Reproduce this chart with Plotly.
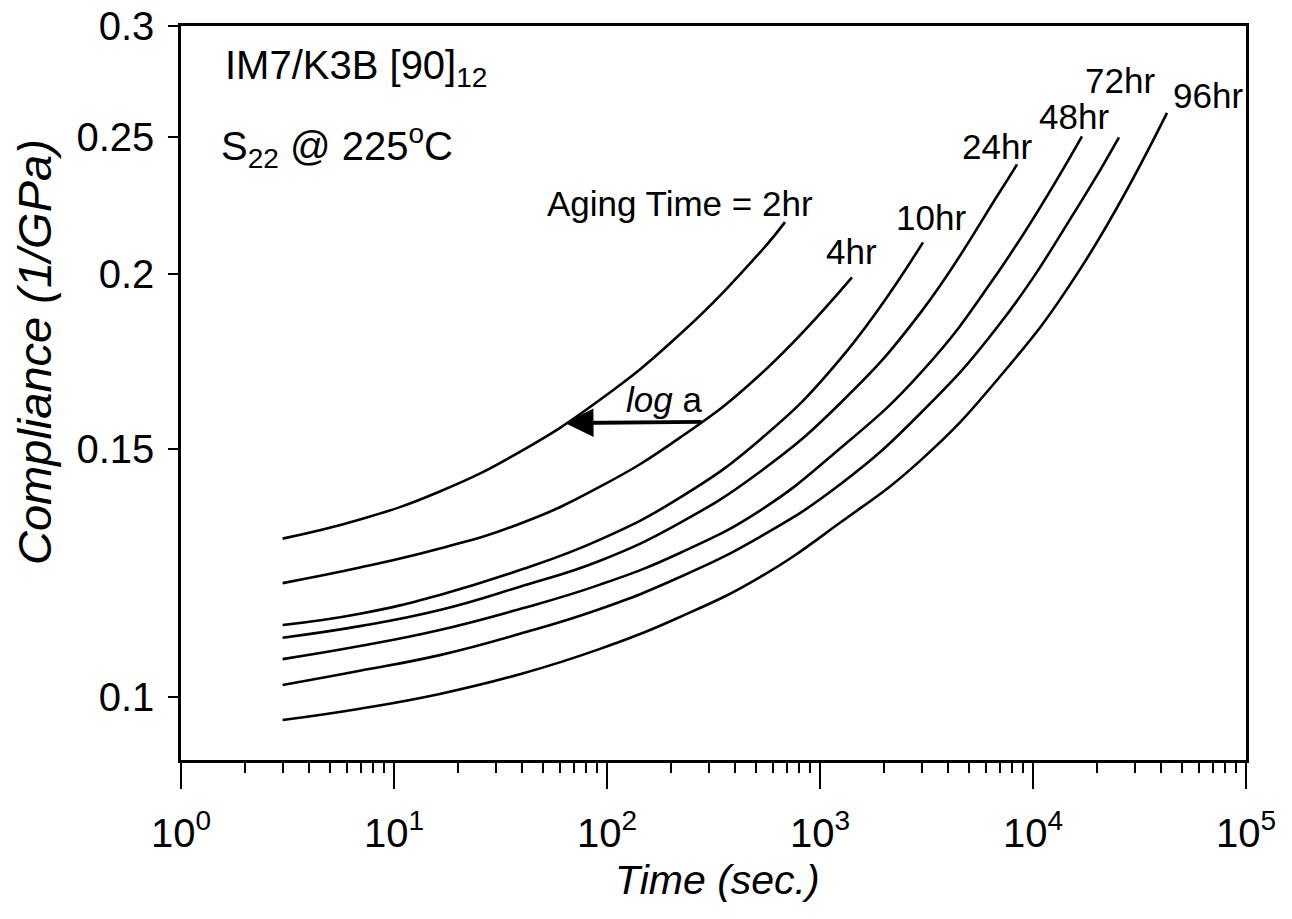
import math
import plotly.graph_objects as go

# ---- data (time in s, compliance in 1/GPa) ----
aging_labels = ["2hr", "4hr", "10hr", "24hr", "48hr", "72hr", "96hr"]

t_2hr = [3, 6.92, 16.4, 39.0, 92.7, 220, 523, 685]
c_2hr = [0.1296, 0.1337, 0.1400, 0.1494, 0.1627, 0.1811, 0.2071, 0.2176]

t_4hr = [3, 6.92, 16.4, 39.0, 92.7, 220, 523, 1413]
c_4hr = [0.1205, 0.1236, 0.1275, 0.1328, 0.1411, 0.1529, 0.1695, 0.1988]

t_10hr = [3, 6.92, 16.4, 39.0, 92.7, 220, 523, 1241, 3045]
c_10hr = [0.1125, 0.1146, 0.1182, 0.1231, 0.1294, 0.1386, 0.1524, 0.1738, 0.2105]

t_24hr = [3, 6.92, 16.4, 39.0, 92.7, 220, 523, 1241, 2948, 7000, 8413]
c_24hr = [0.1102, 0.1123, 0.1153, 0.1198, 0.1250, 0.1330, 0.1446, 0.1617, 0.1874, 0.2288, 0.2392]

t_48hr = [3, 6.92, 16.4, 39.0, 92.7, 220, 523, 1241, 2948, 7000, 16982]
c_48hr = [0.1064, 0.1087, 0.1116, 0.1155, 0.1202, 0.1266, 0.1357, 0.1502, 0.1698, 0.2014, 0.2504]

t_72hr = [3, 6.92, 16.4, 39.0, 92.7, 220, 523, 1241, 2948, 7000, 16620, 25340]
c_72hr = [0.1020, 0.1044, 0.1071, 0.1109, 0.1155, 0.1217, 0.1300, 0.1416, 0.1590, 0.1843, 0.2244, 0.2500]

t_96hr = [3, 6.92, 16.4, 39.0, 92.7, 220, 523, 1241, 2948, 7000, 16620, 42580]
c_96hr = [0.0963, 0.0981, 0.1005, 0.1038, 0.1082, 0.1140, 0.1217, 0.1330, 0.1472, 0.1690, 0.2014, 0.2602]

# curve label positions (time, compliance)
label_t = [220, 1413, 3319, 6776, 15560, 25590, 66370]
label_c = [0.2244, 0.2074, 0.2193, 0.2463, 0.2588, 0.2745, 0.2679]

x_tickvals = [1, 10, 100, 1000, 10000, 100000]
x_ticktext = ["10<sup>0</sup>", "10<sup>1</sup>", "10<sup>2</sup>", "10<sup>3</sup>",
              "10<sup>4</sup>", "10<sup>5</sup>"]
x_minor = [m * 10 ** d for d in range(0, 5) for m in range(2, 10)]
y_tickvals = [0.1, 0.15, 0.2, 0.25, 0.3]
y_ticktext = ["0.1", "0.15", "0.2", "0.25", "0.3"]

# shift arrow (head on 2hr curve, tail on 4hr curve)
arrow_head = (63.5, 0.1566)
arrow_tail = (282, 0.1569)
loga_pos = (185, 0.1627)

FONT = "Liberation Sans, Arial, sans-serif"

series = [(t_2hr, c_2hr), (t_4hr, c_4hr), (t_10hr, c_10hr), (t_24hr, c_24hr),
          (t_48hr, c_48hr), (t_72hr, c_72hr), (t_96hr, c_96hr)]

fig = go.Figure()
for (tt, cc), name in zip(series, aging_labels):
    fig.add_trace(go.Scatter(x=tt, y=cc, mode="lines", name=name,
                             line=dict(color="black", width=2.6, shape="spline", smoothing=1.3),
                             showlegend=False))

annotations = []
for i, name in enumerate(aging_labels):
    txt = "Aging Time = 2hr" if i == 0 else name
    annotations.append(dict(x=math.log10(label_t[i]), y=math.log10(label_c[i]), xref="x", yref="y",
                            text=txt, showarrow=False, xanchor="center", yanchor="middle",
                            font=dict(family=FONT, size=35, color="black")))

# header text
annotations.append(dict(x=0.039, y=0.943, xref="paper", yref="paper", xanchor="left", yanchor="middle",
                        text="IM7/K3B [90]<sub>12</sub>", showarrow=False,
                        font=dict(family=FONT, size=40, color="black")))
annotations.append(dict(x=0.036, y=0.836, xref="paper", yref="paper", xanchor="left", yanchor="middle",
                        text="S<sub>22</sub> @ 225<sup>o</sup>C", showarrow=False,
                        font=dict(family=FONT, size=40, color="black")))

# arrow
annotations.append(dict(x=math.log10(arrow_head[0]), y=math.log10(arrow_head[1]),
                        ax=math.log10(arrow_tail[0]), ay=math.log10(arrow_tail[1]),
                        xref="x", yref="y", axref="x", ayref="y", text="",
                        showarrow=True, arrowhead=2, arrowsize=1.5, arrowwidth=3.8,
                        arrowcolor="black"))
annotations.append(dict(x=math.log10(loga_pos[0]), y=math.log10(loga_pos[1]), xref="x", yref="y",
                        text="<i>log</i> a", showarrow=False, xanchor="center", yanchor="middle",
                        font=dict(family=FONT, size=35, color="black")))

# axis titles
annotations.append(dict(x=0.504, y=-0.1635, xref="paper", yref="paper", xanchor="center", yanchor="middle",
                        text="<i>Time (sec.)</i>", showarrow=False,
                        font=dict(family=FONT, size=41, color="black")))
annotations.append(dict(x=-0.137, y=0.556, xref="paper", yref="paper", xanchor="center", yanchor="middle",
                        text="<i>Compliance (1/GPa)</i>", showarrow=False, textangle=-90,
                        font=dict(family=FONT, size=47, color="black")))

fig.update_layout(
    width=1292, height=919,
    margin=dict(l=181, r=46, t=26, b=159),
    paper_bgcolor="white", plot_bgcolor="white",
    annotations=annotations,
    font=dict(family=FONT, color="black"),
)
fig.update_xaxes(type="log", range=[0, 5], showgrid=False, zeroline=False, automargin=False,
                 showline=True, linecolor="black", linewidth=2.5, mirror=True,
                 tickmode="array", tickvals=x_tickvals, ticktext=x_ticktext,
                 ticks="outside", ticklen=26, tickwidth=2, tickcolor="black",
                 ticklabelstandoff=10,
                 tickfont=dict(family=FONT, size=40, color="black"),
                 minor=dict(tickmode="array", tickvals=x_minor, ticks="outside",
                            ticklen=10, tickwidth=2, tickcolor="black", showgrid=False))
fig.update_yaxes(type="log", range=[math.log10(0.0902), math.log10(0.3)], showgrid=False, zeroline=False,
                 automargin=False,
                 showline=True, linecolor="black", linewidth=2.5, mirror=True,
                 tickmode="array", tickvals=y_tickvals, ticktext=y_ticktext,
                 ticks="outside", ticklen=10, tickwidth=2, tickcolor="black",
                 ticklabelstandoff=6,
                 tickfont=dict(family=FONT, size=40, color="black"))

fig.write_html("out.html")
